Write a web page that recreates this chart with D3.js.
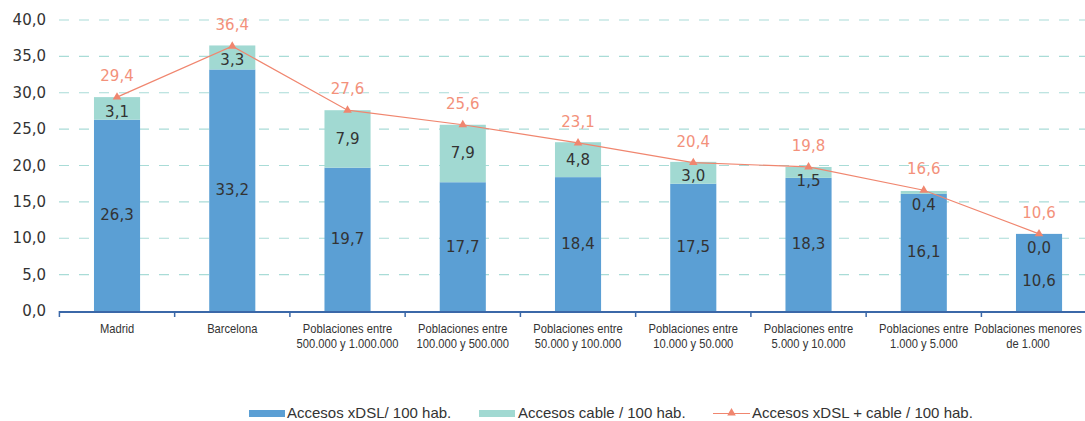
<!DOCTYPE html>
<html><head><meta charset="utf-8">
<script src="https://cdn.jsdelivr.net/npm/d3@7"></script>
<style>
html,body{margin:0;padding:0;background:#fff;}
svg{display:block;}
</style></head>
<body><svg id="c" width="1085" height="421"></svg>
<script>
const categories = ["Madrid", "Barcelona", "Poblaciones entre\n500.000 y 1.000.000", "Poblaciones entre\n100.000 y 500.000", "Poblaciones entre\n50.000 y 100.000", "Poblaciones entre\n10.000 y 50.000", "Poblaciones entre\n5.000 y 10.000", "Poblaciones entre\n1.000 y 5.000", "Poblaciones menores\nde 1.000"];
const xdsl = [26.3, 33.2, 19.7, 17.7, 18.4, 17.5, 18.3, 16.1, 10.6];
const cable = [3.1, 3.3, 7.9, 7.9, 4.8, 3.0, 1.5, 0.4, 0.0];
const total = [29.4, 36.4, 27.6, 25.6, 23.1, 20.4, 19.8, 16.6, 10.6];
const yTicks = [0, 5, 10, 15, 20, 25, 30, 35, 40];
const seriesNames = ["Accesos xDSL/ 100 hab.", "Accesos cable / 100 hab.", "Accesos xDSL + cable / 100 hab."];

const C_BLUE = "#5b9fd4", C_TEAL = "#a1d9d2", C_LINE = "#f0866f", C_TOT = "#f3917b";
const NUM_FONT = "'DejaVu Sans', sans-serif";
const NARROW = "'Liberation Sans', Arial, sans-serif";
const fmt = v => v.toFixed(1).replace(".", ",");

const svg = d3.select("#c");
const x = d3.scaleBand().domain(categories).range([59.4, 1096.65]).paddingInner(0.6).paddingOuter(0.3);
const y = d3.scaleLinear().domain([0, 40]).range([311, 20]);

// gridlines
svg.append("g").selectAll("line").data(yTicks.filter(t => t > 0)).join("line")
  .attr("x1", 59).attr("x2", 1085).attr("y1", d => y(d)).attr("y2", d => y(d))
  .attr("stroke", "#a9dcd7").attr("stroke-width", 1.2).attr("stroke-dasharray", "10,10");

// y labels
svg.append("g").selectAll("text").data(yTicks).join("text")
  .attr("x", 46).attr("y", d => y(d)).attr("text-anchor", "end").attr("dominant-baseline", "central")
  .attr("font-family", NUM_FONT).attr("font-size", 15).attr("fill", "#333").text(d => fmt(d));

const data = categories.map((c, i) => ({c, a: xdsl[i], b: cable[i], t: total[i]}));

// bars
const g = svg.append("g");
g.selectAll("rect.a").data(data).join("rect").attr("class", "a")
  .attr("x", d => x(d.c)).attr("width", x.bandwidth())
  .attr("y", d => y(d.a)).attr("height", d => y(0) - y(d.a)).attr("fill", C_BLUE);
g.selectAll("rect.b").data(data).join("rect").attr("class", "b")
  .attr("x", d => x(d.c)).attr("width", x.bandwidth())
  .attr("y", d => y(d.a + d.b)).attr("height", d => y(d.a) - y(d.a + d.b)).attr("fill", C_TEAL);

// axis
const step = x.step();
const bounds = categories.map(c => x(c) + x.bandwidth() / 2 - step / 2);
svg.append("line").attr("x1", 59).attr("x2", 1085).attr("y1", y(0) + 1).attr("y2", y(0) + 1)
  .attr("stroke", "#3b68a8").attr("stroke-width", 2);
svg.append("g").selectAll("line").data(bounds).join("line")
  .attr("x1", d => d).attr("x2", d => d).attr("y1", y(0)).attr("y2", y(0) + 6)
  .attr("stroke", "#3b68a8").attr("stroke-width", 1.5);

// category labels (condensed), kept inside the right edge
const SX = 0.86;
const cl = svg.append("g").selectAll("text").data(categories).join("text")
  .attr("text-anchor", "middle")
  .attr("font-family", NARROW).attr("font-size", 13).attr("fill", "#333");
cl.each(function(d) {
  const lines = d.split("\n");
  const t = d3.select(this);
  t.selectAll("tspan").data(lines).join("tspan")
    .attr("x", 0).attr("dy", (l, i) => i === 0 ? 0 : 15).text(l => l);
  const w = this.getBBox().width * SX;
  let c = x(d) + x.bandwidth() / 2;
  if (c + w / 2 > 1082) c = 1082 - w / 2;
  t.attr("transform", `translate(${c},333) scale(${SX},1)`);
});

// value labels
const cx = d => x(d.c) + x.bandwidth() / 2;
const cableY = d => Math.max((y(d.a) + y(d.a + d.b)) / 2, y(d.a + d.b) + 14.5);
const xdslY = d => Math.max((y(0) + y(d.a)) / 2, cableY(d) + 33);
svg.append("g").selectAll("text").data(data).join("text")
  .attr("x", cx).attr("y", cableY).attr("text-anchor", "middle").attr("dominant-baseline", "central")
  .attr("font-family", NUM_FONT).attr("font-size", 15).attr("fill", "#333").text(d => fmt(d.b));
svg.append("g").selectAll("text").data(data).join("text")
  .attr("x", cx).attr("y", xdslY).attr("text-anchor", "middle").attr("dominant-baseline", "central")
  .attr("font-family", NUM_FONT).attr("font-size", 15).attr("fill", "#333").text(d => fmt(d.a));

// total line
const line = d3.line().x(cx).y(d => y(d.t));
svg.append("path").datum(data).attr("d", line).attr("fill", "none").attr("stroke", C_LINE).attr("stroke-width", 1.2);
const tri = d3.symbol().type(d3.symbolTriangle).size(32);
svg.append("g").selectAll("path").data(data).join("path")
  .attr("d", tri).attr("transform", d => `translate(${cx(d)},${y(d.t)})`).attr("fill", C_LINE);
svg.append("g").selectAll("text").data(data).join("text")
  .attr("x", cx).attr("y", d => y(d.t) - 21).attr("text-anchor", "middle").attr("dominant-baseline", "central")
  .attr("font-family", NUM_FONT).attr("font-size", 15).attr("fill", C_TOT).text(d => fmt(d.t));

// legend
const lg = svg.append("g").attr("font-family", NARROW).attr("font-size", 15).attr("fill", "#333");
lg.append("rect").attr("x", 249).attr("y", 410).attr("width", 36).attr("height", 7).attr("fill", C_BLUE);
lg.append("text").attr("x", 287).attr("y", 418).text(seriesNames[0]);
lg.append("rect").attr("x", 479).attr("y", 410).attr("width", 36).attr("height", 7).attr("fill", C_TEAL);
lg.append("text").attr("x", 518).attr("y", 418).text(seriesNames[1]);
lg.append("line").attr("x1", 713).attr("x2", 750).attr("y1", 413.5).attr("y2", 413.5).attr("stroke", C_LINE).attr("stroke-width", 1.2);
lg.append("path").attr("d", tri).attr("transform", "translate(731.5,413)").attr("fill", C_LINE);
lg.append("text").attr("x", 752).attr("y", 418).text(seriesNames[2]);
</script>
</body></html>
